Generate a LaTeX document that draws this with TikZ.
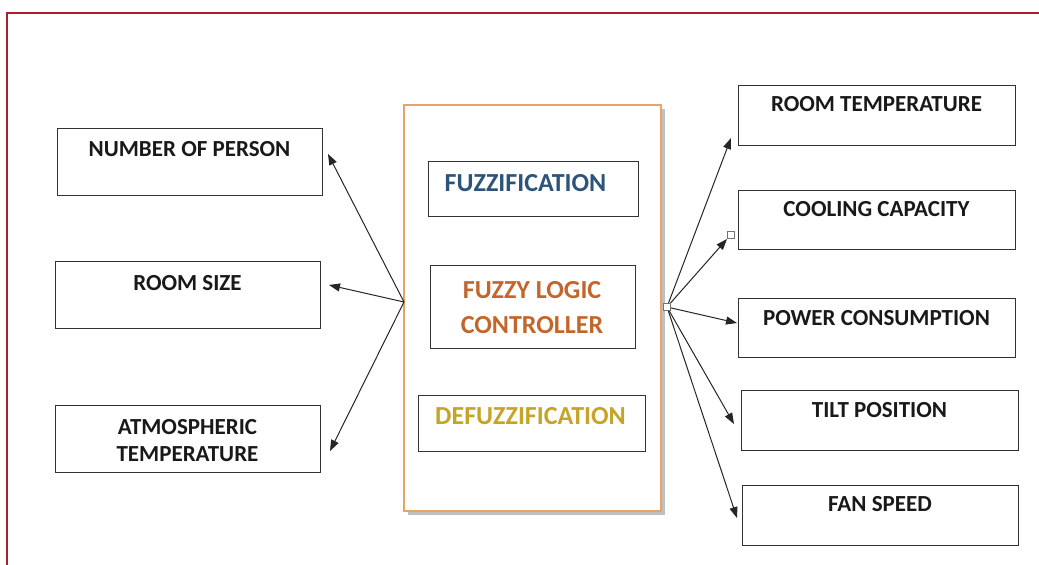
\documentclass[tikz,border=0pt]{standalone}
\usepackage{fontspec}
\setmainfont{Carlito}
\usetikzlibrary{arrows.meta,shadows}
\definecolor{framered}{RGB}{170,32,48}
\definecolor{fuzblue}{RGB}{44,84,122}
\definecolor{flcorange}{RGB}{194,102,44}
\definecolor{defgold}{RGB}{198,164,40}
\definecolor{mainedge}{RGB}{230,164,104}
\begin{document}
\begin{tikzpicture}[x=1pt,y=-1pt,
  box/.style={draw=black!80, line width=1pt, fill=white, inner sep=0pt},
  lbl/.style={font=\fontsize{23}{27}\selectfont\bfseries, align=center, text=black!90, inner sep=0pt},
  inlbl/.style={font=\fontsize{26}{35}\selectfont\bfseries, align=center, inner sep=0pt},
  arr/.style={-{Triangle[length=11pt,width=8pt]}, line width=1pt, draw=black!85},
  hub/.style={draw=black!55, fill=white, line width=0.6pt, minimum size=7pt, inner sep=0pt},
]
\useasboundingbox (0,0) rectangle (1039,565);
\fill[white] (0,0) rectangle (1039,565);
\draw[framered, line width=1.5pt] (7,566) -- (7,13) -- (1040,13);

% left boxes
\node[box, minimum width=265pt, minimum height=67pt] (np) at (189.5,161.5) {};
\node[lbl] (npt) at (189.5,149.5) {NUMBER OF PERSON};
\node[box, minimum width=265pt, minimum height=67pt] (rs) at (187.5,294.5) {};
\node[lbl] (rst) at (187.5,283.5) {ROOM SIZE};
\node[box, minimum width=265pt, minimum height=67pt] (at) at (187.5,438.5) {};
\node[lbl] (att) at (187.5,441) {ATMOSPHERIC\\TEMPERATURE};

% central block
\node[draw=mainedge, line width=1.3pt, fill=white, minimum width=257pt, minimum height=406pt,
      drop shadow={shadow xshift=4pt, shadow yshift=-4pt, opacity=0.45, fill=black!55}] (main) at (532.5,308) {};
\node[box, minimum width=210pt, minimum height=55pt] (fz) at (533,188.5) {};
\node[inlbl, text=fuzblue] (fzt) at (525.5,183.5) {FUZZIFICATION};
\node[box, minimum width=205pt, minimum height=83pt] (flc) at (532.5,306.5) {};
\node[inlbl, text=flcorange] (flct) at (532,307.5) {FUZZY LOGIC\\CONTROLLER};
\node[box, minimum width=227pt, minimum height=56pt] (dfz) at (531.5,423) {};
\node[inlbl, text=defgold] (dfzt) at (530.5,416.5) {DEFUZZIFICATION};

% right boxes
\node[box, minimum width=277pt, minimum height=60pt] (rt) at (876.5,115) {};
\node[lbl] (rtt) at (876.5,104.5) {ROOM TEMPERATURE};
\node[box, minimum width=277pt, minimum height=59pt] (cc) at (876.5,219.5) {};
\node[lbl] (cct) at (876.5,209) {COOLING CAPACITY};
\node[box, minimum width=277pt, minimum height=59pt] (pc) at (876.5,327.5) {};
\node[lbl] (pct) at (876.5,318) {POWER CONSUMPTION};
\node[box, minimum width=277pt, minimum height=60pt] (tp) at (879.5,420) {};
\node[lbl] (tpt) at (879.5,410) {TILT POSITION};
\node[box, minimum width=276pt, minimum height=60pt] (fs) at (880,515) {};
\node[lbl] (fst) at (880,504) {FAN SPEED};

% connector points
\coordinate (lh) at (404,302);
\coordinate (rhc) at (667,307);
\coordinate (npTip) at (328,154);
\coordinate (rsTip) at (329,285);
\coordinate (atTip) at (330,451);
\coordinate (rtTip) at (731,138);
\coordinate (ccTip) at (727,239);
\coordinate (pcTip) at (737,323);
\coordinate (tpTip) at (734,424);
\coordinate (fsTip) at (737,518);

\draw[arr] (lh) -- (npTip);
\draw[arr] (lh) -- (rsTip);
\draw[arr] (lh) -- (atTip);
\draw[arr] (rhc) -- (rtTip);
\draw[arr] (rhc) -- (ccTip);
\draw[arr] (rhc) -- (pcTip);
\draw[arr] (rhc) -- (tpTip);
\draw[arr] (rhc) -- (fsTip);

\node[hub] (rh) at (rhc) {};
\node[hub] (ccsq) at (731,235) {};
\end{tikzpicture}
\end{document}
